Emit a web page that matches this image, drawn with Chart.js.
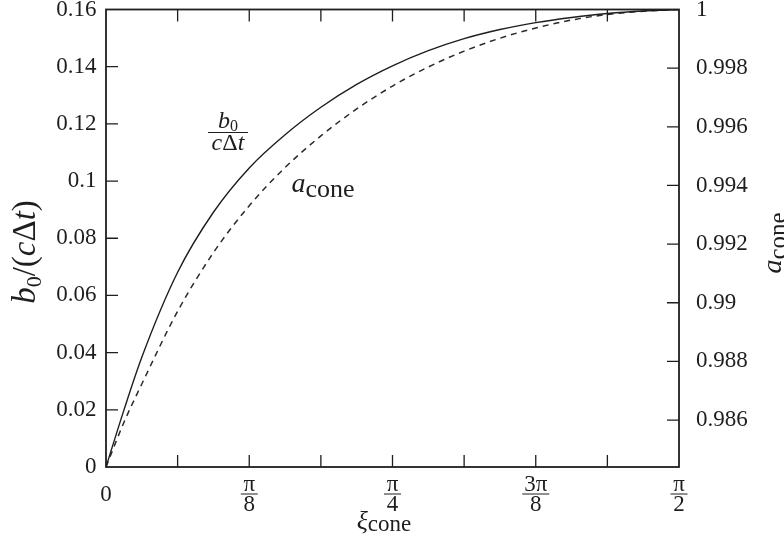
<!DOCTYPE html>
<html>
<head>
<meta charset="utf-8">
<script src="https://cdn.jsdelivr.net/npm/chart.js@4.4.1/dist/chart.umd.min.js"></script>
<style>
  html, body { margin: 0; padding: 0; background: #fff; }
  #wrap { width: 784px; height: 550px; }
</style>
</head>
<body>
<div id="wrap"><canvas id="coneChart" width="784" height="550"></canvas></div>
<script>
const PI = Math.PI;

// xi_cone sample points (radians)
const xiValues = [0, PI/64, PI/32, 2*PI/32, 3*PI/32, 4*PI/32, 5*PI/32, 6*PI/32, 7*PI/32, 8*PI/32,
  9*PI/32, 10*PI/32, 11*PI/32, 12*PI/32, 13*PI/32, 14*PI/32, 15*PI/32, 16*PI/32];

// b0/(c dt), left axis (solid)
const b0Values = [0, 0.0199, 0.0384, 0.0681, 0.0891, 0.1046, 0.1162, 0.1258, 0.1338, 0.1403,
  0.1456, 0.1498, 0.1530, 0.1554, 0.1572, 0.1586, 0.1595, 0.1600];

// a_cone, right axis (dashed)
const aConeValues = [0.9844, 0.98592, 0.98723, 0.98971, 0.99171, 0.99331, 0.99461, 0.99569, 0.99661, 0.99739,
  0.99804, 0.99858, 0.99902, 0.99937, 0.99964, 0.99983, 0.99994, 1.0];

// ticks
const xTickValues = [0, PI/16, PI/8, 3*PI/16, PI/4, 5*PI/16, 3*PI/8, 7*PI/16, PI/2];
const xTickLabels = ['0', '', ['π', '8'], '', ['π', '4'], '', ['3π', '8'], '', ['π', '2']];
const yLeftTicks = [0, 0.02, 0.04, 0.06, 0.08, 0.1, 0.12, 0.14, 0.16];
const yRightTicks = [0.986, 0.988, 0.99, 0.992, 0.994, 0.996, 0.998, 1];

const FONT = '"Liberation Serif", "Times New Roman", serif';
const INK = '#1e1e1e';

function fmt(v) { return String(+v.toFixed(3)); }

// draws a run of text pieces [text, font, dy] centred on (x, y baseline)
function drawRich(ctx, parts, x, y, rot) {
  ctx.save();
  ctx.translate(x, y);
  ctx.rotate(rot || 0);
  ctx.textAlign = 'left';
  ctx.textBaseline = 'alphabetic';
  let w = 0;
  parts.forEach(p => { ctx.font = p[1]; w += ctx.measureText(p[0]).width; });
  let cx = -w / 2;
  parts.forEach(p => {
    ctx.font = p[1];
    ctx.fillText(p[0], cx, p[2] || 0);
    cx += ctx.measureText(p[0]).width;
  });
  ctx.restore();
}

// no extra room for half tick labels, the frame is fixed
function noPad(s) {
  s.paddingTop = 0; s.paddingBottom = 0;
  s.paddingLeft = 0; s.paddingRight = 0;
}

const framePlugin = {
  id: 'frame',
  afterDraw(chart) {
    const ctx = chart.ctx;
    const a = chart.chartArea;
    const sx = chart.scales.x, sy = chart.scales.y, sy2 = chart.scales.y2;
    ctx.save();
    ctx.strokeStyle = INK;
    ctx.fillStyle = INK;

    // box
    ctx.lineWidth = 1.8;
    ctx.strokeRect(a.left, a.top, a.right - a.left, a.bottom - a.top);

    // inward ticks
    ctx.lineWidth = 1.3;
    ctx.beginPath();
    const tl = 12;
    xTickValues.slice(1, -1).forEach(v => {
      const px = sx.getPixelForValue(v);
      ctx.moveTo(px, a.bottom); ctx.lineTo(px, a.bottom - tl);
      ctx.moveTo(px, a.top); ctx.lineTo(px, a.top + tl);
    });
    yLeftTicks.slice(1, -1).forEach(v => {
      const py = sy.getPixelForValue(v);
      ctx.moveTo(a.left, py); ctx.lineTo(a.left + tl, py);
    });
    yRightTicks.slice(0, -1).forEach(v => {
      const py = sy2.getPixelForValue(v);
      ctx.moveTo(a.right, py); ctx.lineTo(a.right - tl, py);
    });
    ctx.stroke();

    // fraction bars under x tick labels
    ctx.lineWidth = 1;
    ctx.beginPath();
    xTickValues.forEach((v, i) => {
      const lab = xTickLabels[i];
      if (!Array.isArray(lab)) return;
      const px = sx.getPixelForValue(v);
      const hw = lab[0].length > 1 ? 13.5 : 8.5;
      const by = a.bottom + 27;
      ctx.moveTo(px - hw, by); ctx.lineTo(px + hw, by);
    });
    // bar of in-plot fraction label
    ctx.moveTo(208, 132.5); ctx.lineTo(248, 132.5);
    ctx.stroke();

    // axis titles
    drawRich(ctx, [
      ['b', 'italic 33px ' + FONT], ['0', '22px ' + FONT, 6], ['/', '33px ' + FONT],
      ['(', '33px ' + FONT], ['c', 'italic 33px ' + FONT], ['Δ', '33px ' + FONT],
      ['t', 'italic 33px ' + FONT], [')', '33px ' + FONT]
    ], 35, 252, -PI / 2);
    drawRich(ctx, [['a', 'italic 28px ' + FONT], ['cone', '25px ' + FONT, 5]], 781, 243, -PI / 2);
    drawRich(ctx, [['ξ', 'italic 26px ' + FONT], ['cone', '23px ' + FONT, 2]], 384, 529, 0);

    // curve labels
    drawRich(ctx, [['b', 'italic 24px ' + FONT], ['0', '16px ' + FONT, 3]], 228, 128, 0);
    drawRich(ctx, [['c', 'italic 24px ' + FONT], ['Δ', '24px ' + FONT], ['t', 'italic 24px ' + FONT]], 228, 150, 0);
    drawRich(ctx, [['a', 'italic 28px ' + FONT], ['cone', '26px ' + FONT, 5]], 323, 192, 0);

    ctx.restore();
  }
};

const ctx = document.getElementById('coneChart').getContext('2d');
const coneChart = new Chart(ctx, {
  type: 'line',
  data: {
    datasets: [{
      label: 'b0/(cΔt)',
      data: xiValues.map((x, i) => ({ x: x, y: b0Values[i] })),
      yAxisID: 'y',
      borderColor: INK,
      borderWidth: 1.4,
      pointRadius: 0,
      cubicInterpolationMode: 'monotone',
      fill: false
    }, {
      label: 'a_cone',
      data: xiValues.map((x, i) => ({ x: x, y: aConeValues[i] })),
      yAxisID: 'y2',
      borderColor: '#2a2a2a',
      borderWidth: 1.5,
      borderDash: [6, 5],
      pointRadius: 0,
      cubicInterpolationMode: 'monotone',
      fill: false
    }]
  },
  options: {
    responsive: false,
    animation: false,
    layout: { padding: { top: 9.5, left: 0, right: 0, bottom: 0 } },
    plugins: {
      legend: { display: false },
      tooltip: { enabled: false }
    },
    scales: {
      x: {
        type: 'linear',
        min: 0,
        max: PI / 2,
        afterBuildTicks: s => { s.ticks = xTickValues.map(v => ({ value: v })); },
        afterFit: s => { s.height = 83; noPad(s); },
        grid: { display: false, drawTicks: false },
        border: { display: false },
        ticks: {
          autoSkip: false,
          maxRotation: 0,
          crossAlign: 'center',
          padding: 18,
          color: INK,
          font: { family: FONT, size: 23, lineHeight: '20px' },
          callback: (v, i) => xTickLabels[i]
        }
      },
      y: {
        position: 'left',
        min: 0,
        max: 0.16,
        afterBuildTicks: s => { s.ticks = yLeftTicks.map(v => ({ value: v })); },
        afterFit: s => { s.width = 106; noPad(s); },
        grid: { display: false, drawTicks: false },
        border: { display: false },
        ticks: {
          padding: 9.5,
          color: INK,
          font: { family: FONT, size: 23 },
          callback: v => fmt(v)
        }
      },
      y2: {
        position: 'right',
        min: 0.9844,
        max: 1,
        afterBuildTicks: s => { s.ticks = yRightTicks.map(v => ({ value: v })); },
        afterFit: s => { s.width = 105; noPad(s); },
        grid: { display: false, drawTicks: false },
        border: { display: false },
        ticks: {
          padding: 17,
          color: INK,
          font: { family: FONT, size: 23 },
          callback: v => fmt(v)
        }
      }
    }
  },
  plugins: [framePlugin]
});
</script>
</body>
</html>
